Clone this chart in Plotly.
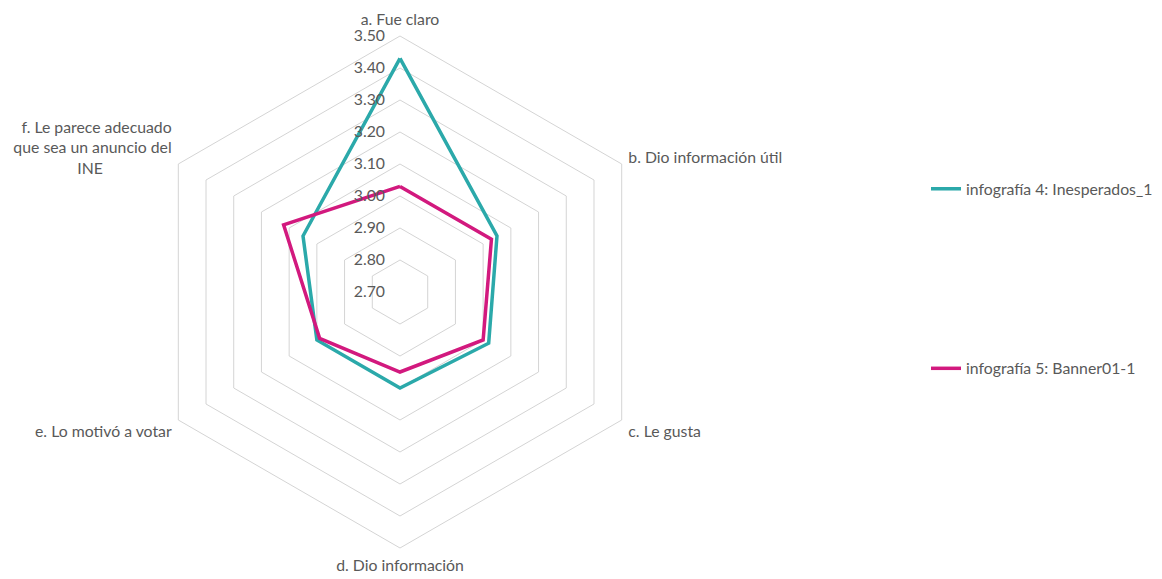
import plotly.graph_objects as go

NB = "\u00a0"
categories = [
    "a. Fue claro",
    "b. Dio información útil",
    "c. Le gusta",
    "d. Dio información",
    "e. Lo motivó a votar",
    "f. Le parece adecuado<br>que sea un anuncio del<br>INE" + NB * 17,
]
series_names = ["infografía 4: Inesperados_1", "infografía 5: Banner01-1"]
values_inesperados = [3.43, 3.05, 3.02, 3.00, 3.00, 3.05]
values_banner = [3.03, 3.03, 3.00, 2.95, 2.99, 3.12]
tick_vals = [2.70, 2.80, 2.90, 3.00, 3.10, 3.20, 3.30, 3.40, 3.50]
tick_text = [f"{v:.2f}" for v in tick_vals]

colors = ["#2BA9AA", "#D2197E"]
W, H = 1162, 579
cx, cy, R = 400, 292, 256

fig = go.Figure()
for name, vals, col in zip(series_names, [values_inesperados, values_banner], colors):
    fig.add_trace(go.Scatterpolar(
        r=vals + vals[:1],
        theta=categories + categories[:1],
        mode="lines",
        name=name,
        legendgroup=name,
        line=dict(color=col, width=3.5),
    ))

font = dict(family="Lato, Open Sans, sans-serif", size=15.8, color="#595959")

fig.update_layout(
    width=W, height=H,
    margin=dict(l=0, r=0, t=0, b=0),
    paper_bgcolor="white",
    plot_bgcolor="white",
    font=font,
    polar=dict(
        domain=dict(x=[(cx - R) / W, (cx + R) / W], y=[1 - (cy + R) / H, 1 - (cy - R) / H]),
        bgcolor="white",
        gridshape="linear",
        radialaxis=dict(
            range=[2.70, 3.50],
            tickvals=tick_vals,
            ticktext=tick_text,
            angle=90,
            tickangle=90,
            side="counterclockwise",
            showline=False,
            ticks="outside",
            ticklen=9,
            tickcolor="rgba(0,0,0,0)",
            gridcolor="#D4D4D4",
            gridwidth=1,
            tickfont=font,
        ),
        angularaxis=dict(
            direction="clockwise",
            rotation=90,
            showgrid=False,
            showline=True,
            linecolor="#D4D4D4",
            linewidth=1,
            ticks="outside",
            ticklen=4,
            tickcolor="rgba(0,0,0,0)",
            tickfont=font,
        ),
    ),
    legend=dict(
        x=926 / W, y=1 - 172 / H,
        xanchor="left", yanchor="top",
        tracegroupgap=156,
        font=font,
        bgcolor="rgba(0,0,0,0)",
        itemwidth=30,
    ),
)

fig.write_html("out.html")
